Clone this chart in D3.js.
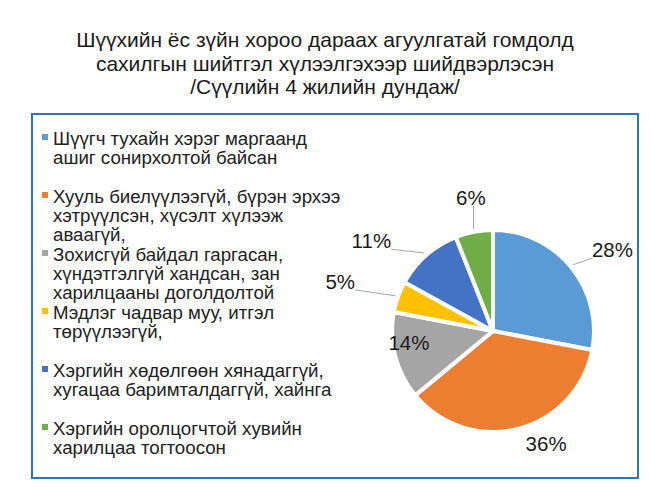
<!DOCTYPE html>
<html>
<head>
<meta charset="utf-8">
<script src="https://cdn.jsdelivr.net/npm/d3@7"></script>
<style>
  body { margin: 0; background: #fff; }
  text { font-family: "Liberation Sans", Arial, sans-serif; }
</style>
</head>
<body>
<div id="chart"></div>
<script>
const titleLines = [
  "Шүүхийн ёс зүйн хороо дараах агуулгатай гомдолд",
  "сахилгын шийтгэл хүлээлгэхээр шийдвэрлэсэн",
  "/Сүүлийн 4 жилийн дундаж/"
];

const categories = [
  ["Шүүгч тухайн хэрэг маргаанд", "ашиг сонирхолтой байсан"],
  ["Хууль биелүүлээгүй, бүрэн эрхээ", "хэтрүүлсэн, хүсэлт хүлээж", "аваагүй,"],
  ["Зохисгүй байдал гаргасан,", "хүндэтгэлгүй хандсан, зан", "харилцааны доголдолтой"],
  ["Мэдлэг чадвар муу, итгэл", "төрүүлээгүй,"],
  ["Хэргийн хөдөлгөөн хянадаггүй,", "хугацаа баримталдаггүй, хайнга"],
  ["Хэргийн оролцогчтой хувийн", "харилцаа тогтоосон"]
];

const values = [28, 36, 14, 5, 11, 6];

const colors = ["#5b9bd5", "#ed7d31", "#a5a5a5", "#ffc000", "#4472c4", "#70ad47"];

// label placement: angle shift (deg) from slice middle, distance in radii
const labelShift = [5.4, -10.9, 6.4, -1.8, -12, 1.4];
const labelDist = [1.43, 1.23, 0.84, 1.59, 1.5, 1.34];
const hasLeader = [true, false, false, true, true, true];

const w = 650;
const h = 487;
const cx = 493;
const cy = 331;
const r = 101;

const svg = d3
  .select("#chart")
  .append("svg")
  .attr("width", w)
  .attr("height", h);

svg
  .selectAll(".title")
  .data(titleLines)
  .enter()
  .append("text")
  .attr("class", "title")
  .attr("x", w / 2)
  .attr("y", (d, i) => 47 + i * 23.5)
  .attr("text-anchor", "middle")
  .attr("font-size", "21px")
  .attr("fill", "#1a1a1a")
  .text((d) => d);

svg
  .append("rect")
  .attr("x", 32)
  .attr("y", 114)
  .attr("width", 606)
  .attr("height", 364)
  .attr("fill", "none")
  .attr("stroke", "#2e75b6")
  .attr("stroke-width", 2);

// legend
const legendY = d3.scalePoint().domain(d3.range(categories.length)).range([145, 435]);

const item = svg
  .selectAll(".legend")
  .data(categories)
  .enter()
  .append("g")
  .attr("class", "legend")
  .attr("transform", (d, i) => `translate(0,${legendY(i)})`);

item
  .append("rect")
  .attr("x", 42)
  .attr("y", -11)
  .attr("width", 6)
  .attr("height", 6)
  .attr("fill", (d, i) => colors[i]);

item
  .append("text")
  .attr("font-size", "18.7px")
  .attr("fill", "#222")
  .selectAll("tspan")
  .data((d) => d)
  .enter()
  .append("tspan")
  .attr("x", 53)
  .attr("y", (d, i) => i * 19)
  .text((d) => d);

// pie
const pie = d3.pie().sort(null).value((d) => d);
const arcs = pie(values);
const arc = d3.arc().innerRadius(0).outerRadius(r);

const g = svg.append("g").attr("transform", `translate(${cx},${cy})`);

g.selectAll("path")
  .data(arcs)
  .enter()
  .append("path")
  .attr("d", arc)
  .attr("fill", (d, i) => colors[i])
  .attr("stroke", "#fff")
  .attr("stroke-width", 4)
  .attr("stroke-linejoin", "round");

const polar = (a, dist) => [Math.sin(a) * dist, -Math.cos(a) * dist];

const labels = g
  .selectAll(".lbl")
  .data(arcs)
  .enter()
  .append("text")
  .attr("class", "lbl")
  .attr("font-size", "20.5px")
  .attr("fill", "#1a1a1a")
  .attr("text-anchor", "middle")
  .attr("dominant-baseline", "central")
  .attr("transform", (d, i) => {
    const mid = (d.startAngle + d.endAngle) / 2 + (labelShift[i] * Math.PI) / 180;
    return `translate(${polar(mid, labelDist[i] * r)})`;
  })
  .text((d) => d3.format(".0%")(d.value / 100));

// leader lines: from slice edge to nearest point of label box
labels.each(function (d, i) {
  if (!hasLeader[i]) return;
  const b = this.getBBox();
  const t = this.transform.baseVal.consolidate().matrix;
  const x0 = t.e + b.x, x1 = t.e + b.x + b.width;
  const y0 = t.f + b.y + 3, y1 = t.f + b.y + b.height - 3;
  const mid = (d.startAngle + d.endAngle) / 2;
  const p = polar(mid, r + 3);
  const q = [Math.max(x0, Math.min(x1, p[0])), Math.max(y0, Math.min(y1, p[1]))];
  g.insert("line", ".lbl")
    .attr("x1", p[0])
    .attr("y1", p[1])
    .attr("x2", q[0])
    .attr("y2", q[1])
    .attr("stroke", "#a6a6a6")
    .attr("stroke-width", 1);
});
</script>
</body>
</html>
